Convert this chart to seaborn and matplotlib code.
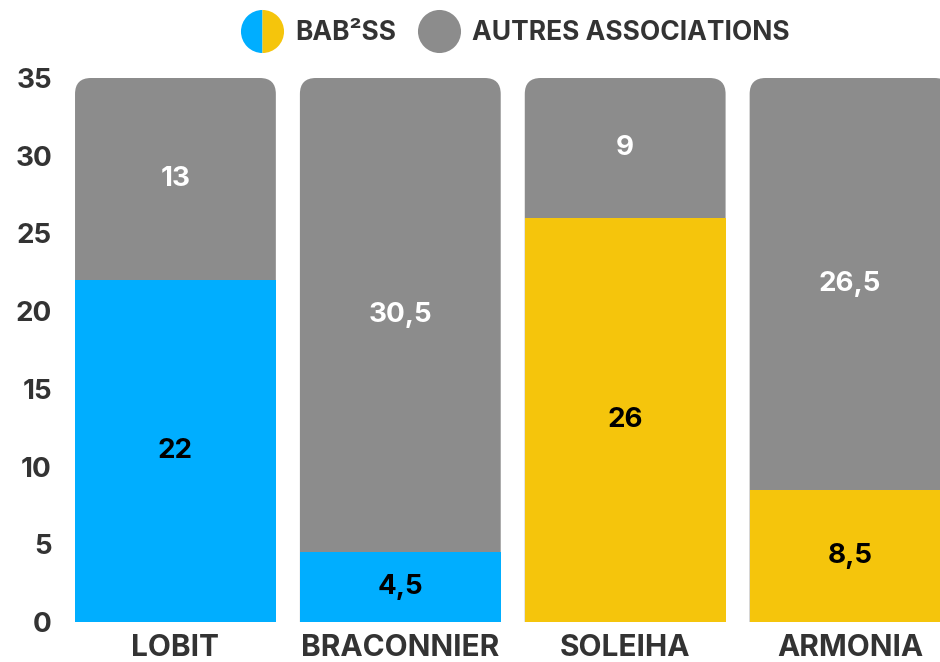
import matplotlib
matplotlib.use("Agg")
import matplotlib.pyplot as plt
from matplotlib.patches import PathPatch
from matplotlib.path import Path
from matplotlib.lines import Line2D
import seaborn as sns
import pandas as pd

categories = ["LOBIT", "BRACONNIER", "SOLEIHA", "ARMONIA"]
bab2ss = [22, 4.5, 26, 8.5]
autres = [13, 30.5, 9, 26.5]
bab_colors = ["#00AEFF", "#00AEFF", "#F5C50C", "#F5C50C"]
grey = "#8C8C8C"
yticks = [0, 5, 10, 15, 20, 25, 30, 35]
legend_labels = ["BAB²SS", "AUTRES ASSOCIATIONS"]

sns.set_style("white")
plt.rcParams["font.family"] = ["Inter", "Open Sans", "DejaVu Sans"]
text_col = "#333333"

df = pd.DataFrame({"cat": categories, "bab": bab2ss, "autres": autres})
df["total"] = df["bab"] + df["autres"]

fig = plt.figure(figsize=(9.4, 6.62), dpi=100)
ax = fig.add_axes([63 / 940, 40 / 662, 1 - 63 / 940, (622 - 78) / 662])

W = 0.893
sns.barplot(data=df, x="cat", y="total", color=grey, width=W, ax=ax,
            saturation=1, order=categories, linewidth=0)

# replace grey patches with top-rounded versions
rx = 16 / 225.0
ry = 16 / 15.54
grey_patches = list(ax.patches)
for p in grey_patches:
    x0, y0 = p.get_x(), p.get_y()
    w, h = p.get_width(), p.get_height()
    x1, y1 = x0 + w, y0 + h
    p.remove()
    verts = [(x0, y0), (x0, y1 - ry), (x0, y1), (x0 + rx, y1),
             (x1 - rx, y1), (x1, y1), (x1, y1 - ry), (x1, y0), (x0, y0)]
    codes = [Path.MOVETO, Path.LINETO, Path.CURVE3, Path.CURVE3,
             Path.LINETO, Path.CURVE3, Path.CURVE3, Path.LINETO,
             Path.CLOSEPOLY]
    ax.add_patch(PathPatch(Path(verts, codes), fc=grey, ec="none", lw=0,
                           zorder=1))

sns.barplot(data=df, x="cat", y="bab", hue="cat", palette=bab_colors,
            width=W, ax=ax, saturation=1, legend=False, order=categories,
            hue_order=categories, zorder=2, linewidth=0)

def fmt(v):
    s = f"{v:g}"
    return s.replace(".", ",")

FS = 20
for i, (b, a) in enumerate(zip(bab2ss, autres)):
    ax.text(i, b / 2, fmt(b), ha="center", va="center", fontsize=FS,
            fontweight="bold", color="black", zorder=5)
    ax.text(i, b + a / 2, fmt(a), ha="center", va="center", fontsize=FS,
            fontweight="bold", color="white", zorder=5)

ax.set_xlim(-0.5, 3.4)
ax.set_ylim(0, 35)
ax.set_yticks(yticks)
ax.set_xlabel("")
ax.set_ylabel("")
for s in ax.spines.values():
    s.set_visible(False)
ax.tick_params(axis="both", length=0, colors=text_col)
ax.tick_params(axis="y", pad=8, labelsize=FS)
ax.tick_params(axis="x", pad=9, labelsize=21.5)
for lab in ax.get_xticklabels() + ax.get_yticklabels():
    lab.set_fontweight("bold")
ax.grid(False)

handles = [
    Line2D([], [], marker="o", linestyle="none", markersize=31,
           fillstyle="left", markerfacecolor="#00AEFF",
           markerfacecoloralt="#F5C50C", markeredgewidth=0),
    Line2D([], [], marker="o", linestyle="none", markersize=31,
           markerfacecolor=grey, markeredgewidth=0),
]
leg = fig.legend(handles, legend_labels, loc="center",
                 bbox_to_anchor=(516 / 940, 1 - 33 / 662), ncol=2,
                 frameon=False, fontsize=19, handlelength=1.5,
                 handletextpad=0.5, columnspacing=0.9, borderpad=0)
for t in leg.get_texts():
    t.set_fontweight("bold")
    t.set_color(text_col)

fig.savefig("out.png", dpi=100)
